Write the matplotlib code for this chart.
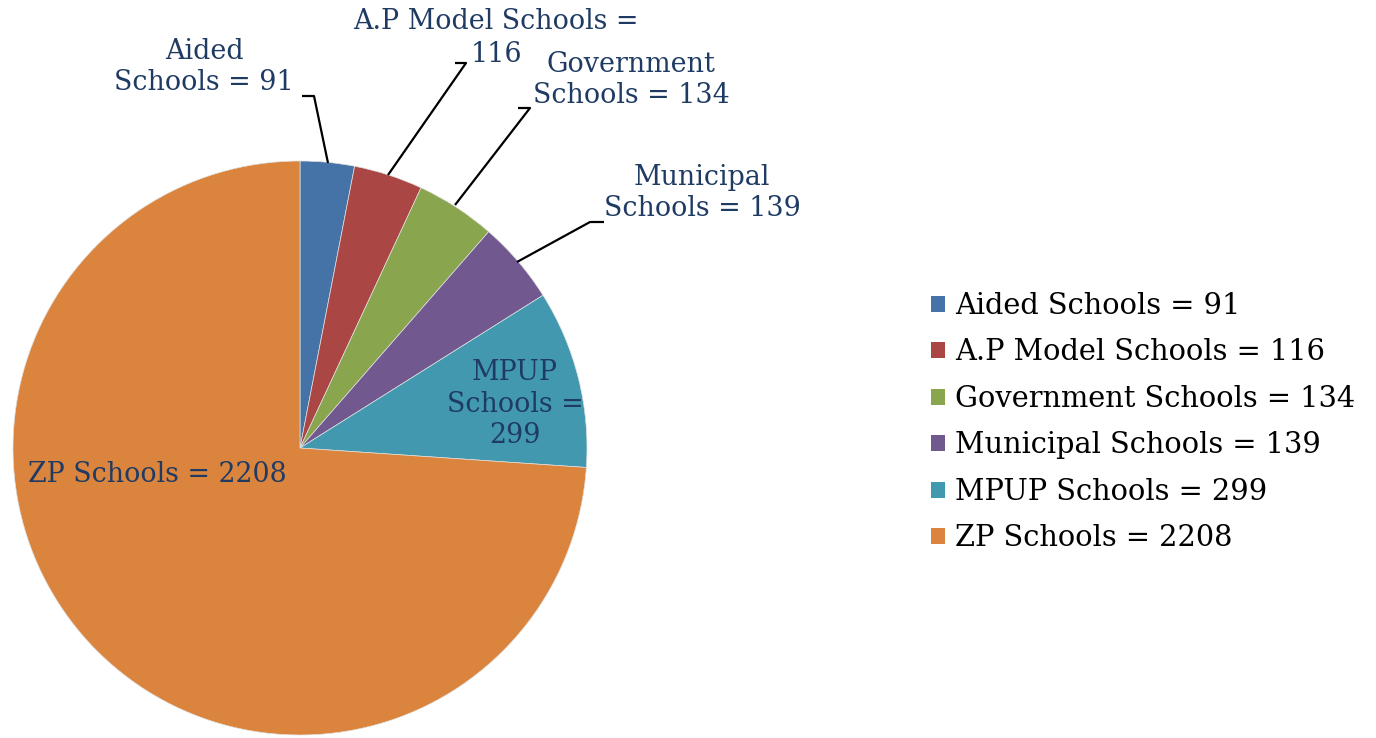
import matplotlib
matplotlib.use("Agg")
import matplotlib.pyplot as plt

categories = ["Aided Schools", "A.P Model Schools", "Government Schools",
              "Municipal Schools", "MPUP Schools", "ZP Schools"]
values = [91, 116, 134, 139, 299, 2208]
colors = ["#4572A7", "#AA4643", "#89A54E", "#71588F", "#4198AF", "#DB843D"]
slice_labels = ["Aided\nSchools = 91", "A.P Model Schools =\n116", "Government\nSchools = 134",
                "Municipal\nSchools = 139", "MPUP\nSchools =\n299", "ZP Schools = 2208"]
legend_labels = [f"{c} = {v}" for c, v in zip(categories, values)]

W, H = 1376, 738
fig = plt.figure(figsize=(W / 100, H / 100), dpi=100)
ax = fig.add_axes([0, 0, 1, 1])

font = "DejaVu Serif"
navy = "#1F3B63"
fs = 20.8
fs_lab = 19.4

cx, cy, r = 300, H - 448, 287
wedges, _ = ax.pie(values, colors=colors, startangle=90, counterclock=False,
                   center=(cx, cy), radius=r, frame=True,
                   wedgeprops=dict(linewidth=0.5, edgecolor="#e0e0e0"))
ax.set_xlim(0, W)
ax.set_ylim(0, H)
ax.set_aspect("equal")
ax.axis("off")

def Y(py):
    return H - py

# text positions in pixel coords (center of each line block)
label_pos = [(204, 67), (496, 38), (631, 80), (702, 193), (515, 404), (157, 475)]
line_step = 32.5
for lab, (px, py) in zip(slice_labels, label_pos):
    lines = lab.split("\n")
    n = len(lines)
    if n == 2 and lab.startswith("A.P"):
        # draw each line separately (tight layout like the reference)
        for i, ln in enumerate(lines):
            yy = py + (i - (n - 1) / 2) * line_step
            ax.text(px, Y(yy), ln, ha="center", va="center", fontsize=fs_lab,
                    family=font, color=navy)
    else:
        ax.text(px, Y(py), lab, ha="center", va="center", fontsize=fs_lab, family=font,
                color=navy, linespacing=1.2)

# leader lines
leaders = [
    [(302, 96), (314, 96), (328, 163)],
    [(455, 63), (466, 63), (388, 175)],
    [(518, 108), (530, 108), (455, 205)],
    [(604, 222), (590, 222), (517, 262)],
]
for pts in leaders:
    xs = [p[0] for p in pts]
    ys = [Y(p[1]) for p in pts]
    ax.plot(xs, ys, color="black", lw=1.6, solid_capstyle="butt")

leg = ax.legend(wedges, legend_labels, loc="upper left",
                bbox_to_anchor=(931 / W, 1 - 292 / H), bbox_transform=fig.transFigure,
                frameon=False, prop=dict(family=font, size=fs),
                handlelength=0.48, handleheight=0.48, handletextpad=0.34,
                labelspacing=0.64, borderpad=0, borderaxespad=0)
for h in leg.legend_handles:
    h.set_edgecolor("none")

fig.savefig("out.png", dpi=100)
